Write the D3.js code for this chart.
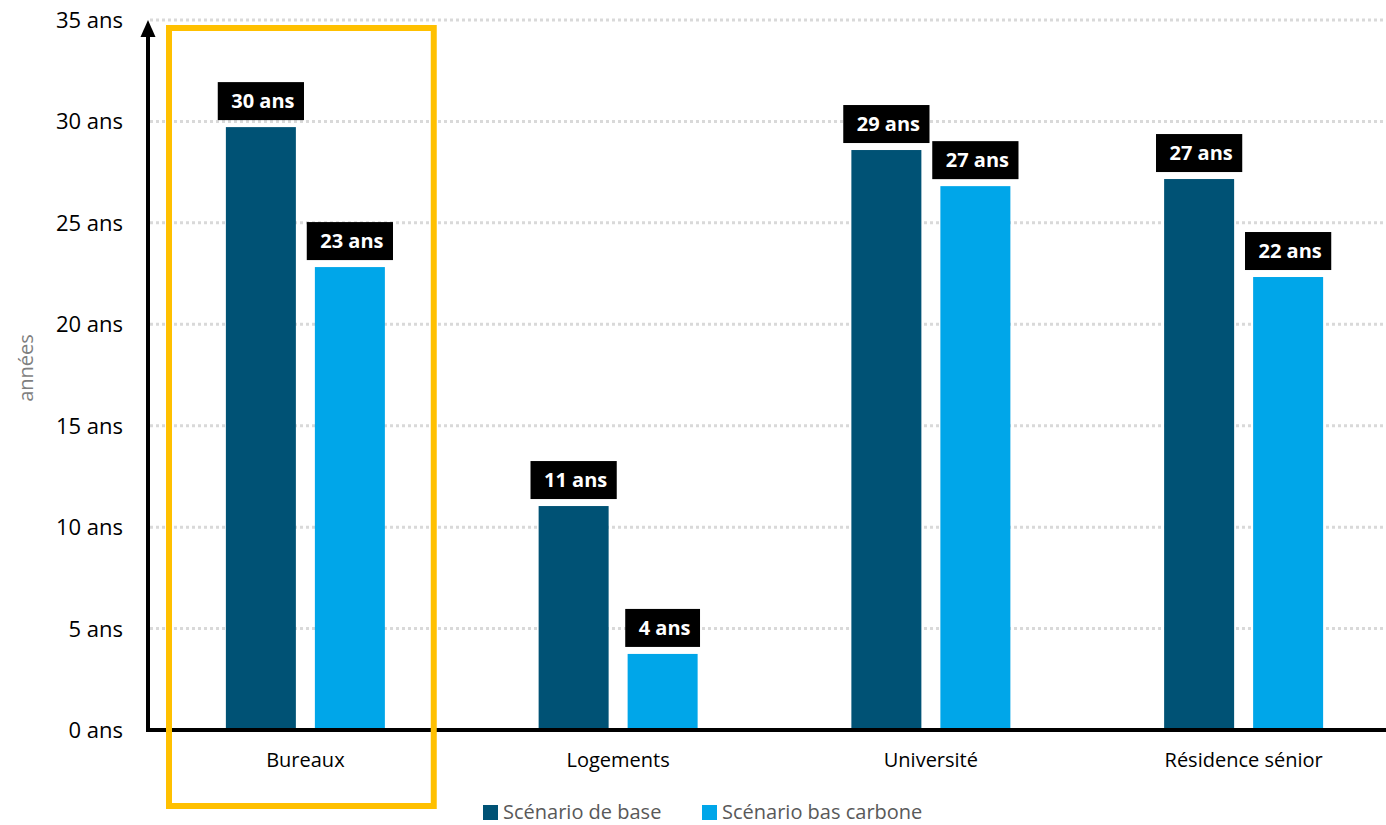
<!DOCTYPE html>
<html lang="fr">
<head>
<meta charset="utf-8">
<script src="https://cdn.jsdelivr.net/npm/d3@7"></script>
<style>
  html, body { margin: 0; padding: 0; background: #fff; }
  svg { display: block; font-family: "Open Sans", "Noto Sans", sans-serif; }
</style>
</head>
<body>
<svg id="chart" width="1386" height="825"></svg>
<script>
// Temps de retour (années) par type de bâtiment et par scénario
const categories = ["Bureaux", "Logements", "Université", "Résidence sénior"];
const seriesNames = ["Scénario de base", "Scénario bas carbone"];
const baseValues = [29.72, 11.04, 28.59, 27.16];
const lowCarbonValues = [22.82, 3.75, 26.81, 22.33];
const yTicks = [0, 5, 10, 15, 20, 25, 30, 35];
const highlighted = "Bureaux";

const colors = { "Scénario de base": "#005275", "Scénario bas carbone": "#00A6E9" };

const rows = categories.map((c, i) => ({
  category: c,
  values: [
    { series: seriesNames[0], value: baseValues[i] },
    { series: seriesNames[1], value: lowCarbonValues[i] }
  ]
}));

const svg = d3.select("#chart");
const W = 1386, H = 825;
const axisX = 148, baseY = 730;

const x = d3.scaleBand().domain(categories).range([149, 1400]).padding(0);
const groupWidth = 159;
const x1 = d3.scaleBand().domain(seriesNames).range([0, groupWidth]).paddingInner(0.2135).paddingOuter(0);
const y = d3.scaleLinear().domain([0, 35]).range([baseY, 20]);

const fmt = v => `${Math.round(v)} ans`;

// grille horizontale pointillée
svg.append("g")
  .selectAll("line")
  .data(yTicks.filter(t => t > 0))
  .join("line")
  .attr("x1", axisX + 2)
  .attr("x2", W)
  .attr("y1", d => y(d))
  .attr("y2", d => y(d))
  .attr("stroke", "#D9D9D9")
  .attr("stroke-width", 3)
  .attr("stroke-dasharray", "3,3");

// axe des ordonnées : graduations textuelles
const yAxis = d3.axisLeft(y).tickValues(yTicks).tickFormat(d => `${d} ans`).tickSize(0).tickPadding(0);
const gy = svg.append("g").attr("transform", `translate(123,0)`).call(yAxis);
gy.select(".domain").remove();
gy.selectAll("text")
  .attr("font-size", 22)
  .attr("font-family", "'Open Sans', sans-serif")
  .attr("fill", "#000")
  .attr("dy", "0.34em");

// titre de l'axe
svg.append("text")
  .attr("transform", `translate(33,368) rotate(-90)`)
  .attr("text-anchor", "middle")
  .attr("font-size", 20)
  .attr("fill", "#7F7F7F")
  .text("années");

// barres
const groups = svg.append("g")
  .selectAll("g")
  .data(rows)
  .join("g")
  .attr("transform", d => `translate(${x(d.category) + (x.bandwidth() - groupWidth) / 2},0)`);

groups.selectAll("rect")
  .data(d => d.values)
  .join("rect")
  .attr("x", d => x1(d.series))
  .attr("width", x1.bandwidth())
  .attr("y", d => y(d.value))
  .attr("height", d => baseY - y(d.value))
  .attr("fill", d => colors[d.series]);

// étiquettes de valeur sur fond noir
const labels = groups.selectAll("g.lbl")
  .data(d => d.values)
  .join("g")
  .attr("class", "lbl");

labels.each(function (d) {
  const g = d3.select(this);
  const cx = x1(d.series) + x1.bandwidth() / 2;
  const boxBottom = y(d.value) - 7;
  const boxH = 38;
  const t = g.append("text")
    .attr("x", cx + 2)
    .attr("y", boxBottom - boxH / 2)
    .attr("dy", "0.36em")
    .attr("text-anchor", "middle")
    .attr("font-size", 20)
    .attr("font-weight", 700)
    .attr("fill", "#fff")
    .text(fmt(d.value));
  const tw = t.node().getComputedTextLength();
  const boxW = tw + 23;
  g.insert("rect", "text")
    .attr("x", cx - boxW / 2)
    .attr("y", boxBottom - boxH)
    .attr("width", boxW)
    .attr("height", boxH)
    .attr("fill", "#000");
});

// axe des abscisses
svg.append("line")
  .attr("x1", axisX - 2).attr("x2", W)
  .attr("y1", baseY).attr("y2", baseY)
  .attr("stroke", "#000").attr("stroke-width", 4);

// axe des ordonnées avec flèche
svg.append("line")
  .attr("x1", axisX).attr("x2", axisX)
  .attr("y1", baseY + 2).attr("y2", 34)
  .attr("stroke", "#000").attr("stroke-width", 4);
svg.append("path")
  .attr("d", `M${axisX},20 L${axisX + 7.5},37 L${axisX - 7.5},37 Z`)
  .attr("fill", "#000");

// libellés des catégories
svg.append("g")
  .selectAll("text")
  .data(categories)
  .join("text")
  .attr("x", d => x(d) + x.bandwidth() / 2)
  .attr("y", 767)
  .attr("text-anchor", "middle")
  .attr("font-size", 20)
  .attr("fill", "#000")
  .text(d => d);

// cadre de mise en évidence
svg.append("rect")
  .attr("x", x(highlighted) + 20)
  .attr("y", 28)
  .attr("width", x.bandwidth() - 48)
  .attr("height", 778)
  .attr("fill", "none")
  .attr("stroke", "#FFC000")
  .attr("stroke-width", 6);

// légende
const legendPos = [483, 702];
const legend = svg.append("g")
  .selectAll("g")
  .data(seriesNames)
  .join("g")
  .attr("transform", (d, i) => `translate(${legendPos[i]},0)`);
legend.append("rect")
  .attr("x", 0).attr("y", 805)
  .attr("width", 15).attr("height", 15)
  .attr("fill", d => colors[d]);
legend.append("text")
  .attr("x", 20).attr("y", 819)
  .attr("font-size", 20)
  .attr("fill", "#595959")
  .text(d => d);
</script>
</body>
</html>
